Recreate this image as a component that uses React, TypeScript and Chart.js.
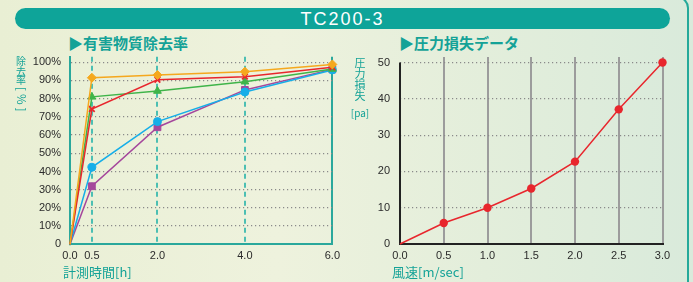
import React, { useEffect, useRef } from "react";
import { Chart, registerables } from "chart.js";

Chart.register(...registerables);

// ---------- data ----------
const TIME_H = [0, 0.5, 2, 4, 6];
const TIME_TICKS = [0, 0.5, 2, 4, 6];
const PCT_TICKS = [0, 10, 20, 30, 40, 50, 60, 70, 80, 90, 100];
const ORANGE_VALUES = [0, 91.5, 93, 94.8, 98.8];
const RED_VALUES = [0, 74.3, 90.4, 92.1, 97.2];
const GREEN_VALUES = [0, 81, 84.2, 89.3, 96.3];
const BLUE_VALUES = [0, 42.3, 67.4, 83.7, 95.8];
const PURPLE_VALUES = [0, 31.9, 64.3, 84.8, 96.1];

const VELOCITY = [0, 0.5, 1, 1.5, 2, 2.5, 3];
const VELOCITY_TICKS = [0, 0.5, 1, 1.5, 2, 2.5, 3];
const PRESSURE = [0, 5.8, 10, 15.3, 22.7, 37.1, 50];
const PA_TICKS = [0, 10, 20, 30, 40, 50];

// ---------- styles ----------
const TEAL = "#14a297";
const TEAL_AXIS = "#2aa89c";
const TEAL_DASH = "#4cbfb3";
const TICK_FONT = { family: "'Liberation Sans', Arial, sans-serif", size: 11 };
const TICK_COLOR = "#2b2b2b";
const CJK = "'Noto Sans CJK JP', 'Noto Sans', sans-serif";

const toPts = (xs: number[], ys: number[]) => xs.map((x, i) => ({ x, y: ys[i] }));
const hideFirst = (r: number) => (c: any) => (c.dataIndex === 0 ? 0 : r);

function mkSeries(label: string, ys: number[], color: string, style: string, r: number) {
  return {
    label,
    data: toPts(TIME_H, ys),
    borderColor: color,
    backgroundColor: color,
    borderWidth: 1.5,
    pointStyle: style,
    pointRadius: hideFirst(r),
    pointBorderWidth: style === "crossRot" ? 1.8 : 1,
    pointBorderColor: color,
    pointBackgroundColor: color,
    tension: 0,
    clip: false,
  };
}

function LeftChart() {
  const ref = useRef<HTMLCanvasElement>(null);
  useEffect(() => {
    const chart = new Chart(ref.current as HTMLCanvasElement, {
      type: "line",
      data: {
        datasets: [
          mkSeries("A", ORANGE_VALUES, "#f5a81e", "rectRot", 4.5),
          mkSeries("B", RED_VALUES, "#e8262d", "crossRot", 4),
          mkSeries("C", GREEN_VALUES, "#3fb449", "triangle", 4.5),
          mkSeries("D", BLUE_VALUES, "#16aee8", "circle", 4),
          mkSeries("E", PURPLE_VALUES, "#a5479c", "rect", 4.8),
        ] as any,
      },
      options: {
        animation: false,
        responsive: false,
        maintainAspectRatio: false,
        layout: { padding: { top: 16.8, right: 12, left: 0, bottom: 0 } },
        plugins: { legend: { display: false }, tooltip: { enabled: false } },
        scales: {
          x: {
            type: "linear",
            min: 0,
            max: 6,
            afterBuildTicks: (s: any) => {
              s.ticks = TIME_TICKS.map((v) => ({ value: v }));
            },
            afterFit: (s: any) => {
              s.height = 20.7;
            },
            ticks: {
              autoSkip: false,
              maxRotation: 0,
              padding: 5,
              font: TICK_FONT,
              color: TICK_COLOR,
              callback: (v: any) => Number(v).toFixed(1),
            },
            grid: {
              drawTicks: false,
              lineWidth: 2,
              color: (c: any) =>
                !c.tick || c.tick.value === 0
                  ? "rgba(0,0,0,0)"
                  : c.tick.value === 6
                  ? TEAL_AXIS
                  : TEAL_DASH,
            },
            border: {
              color: TEAL_AXIS,
              width: 2,
              dash: (c: any) => (c.tick && c.tick.value !== 6 ? [5, 4] : []),
            },
          },
          y: {
            type: "linear",
            min: 0,
            max: 103,
            afterBuildTicks: (s: any) => {
              s.ticks = PCT_TICKS.map((v) => ({ value: v }));
            },
            afterFit: (s: any) => {
              s.width = 70;
            },
            ticks: {
              padding: 9,
              font: TICK_FONT,
              color: TICK_COLOR,
              callback: (v: any) => (v === 0 ? "0" : v + "%"),
            },
            grid: {
              drawTicks: false,
              lineWidth: 1.2,
              color: (c: any) => (!c.tick || c.tick.value === 0 ? "rgba(0,0,0,0)" : "#8a8a8a"),
            },
            border: { color: TEAL_AXIS, width: 2, dash: [1.2, 2.8] },
          },
        },
      } as any,
    });
    return () => chart.destroy();
  }, []);
  return (
    <canvas
      ref={ref}
      width={345}
      height={225}
      style={{ position: "absolute", left: 0, top: 40, width: 345, height: 225, display: "block" }}
    />
  );
}

const axisLinePlugin = {
  id: "axisLine",
  beforeDatasetsDraw(chart: any) {
    const { ctx, scales } = chart;
    const x = scales.x;
    const y = scales.y;
    const px = x.getPixelForValue(0);
    ctx.save();
    ctx.strokeStyle = "#222";
    ctx.lineWidth = 2;
    ctx.beginPath();
    ctx.moveTo(px, y.getPixelForValue(0) + 1);
    ctx.lineTo(px, y.getPixelForValue(PA_TICKS[PA_TICKS.length - 1]));
    ctx.stroke();
    ctx.restore();
  },
};

function RightChart() {
  const ref = useRef<HTMLCanvasElement>(null);
  useEffect(() => {
    const chart = new Chart(ref.current as HTMLCanvasElement, {
      type: "line",
      data: {
        datasets: [
          {
            label: "圧力損失",
            data: toPts(VELOCITY, PRESSURE),
            borderColor: "#e8262d",
            backgroundColor: "#e8262d",
            borderWidth: 1.5,
            pointStyle: "circle",
            pointRadius: hideFirst(4.2),
            pointBorderWidth: 0,
            tension: 0,
            clip: false,
          },
        ] as any,
      },
      options: {
        animation: false,
        responsive: false,
        maintainAspectRatio: false,
        layout: { padding: { top: 17.1, right: 30.5, left: 0, bottom: 0 } },
        plugins: { legend: { display: false }, tooltip: { enabled: false } },
        scales: {
          x: {
            type: "linear",
            min: 0,
            max: 3,
            afterBuildTicks: (s: any) => {
              s.ticks = VELOCITY_TICKS.map((v) => ({ value: v }));
            },
            afterFit: (s: any) => {
              s.height = 21;
            },
            ticks: {
              autoSkip: false,
              maxRotation: 0,
              padding: 5,
              font: TICK_FONT,
              color: TICK_COLOR,
              callback: (v: any) => Number(v).toFixed(1),
            },
            grid: {
              drawTicks: false,
              lineWidth: 2,
              color: (c: any) => (!c.tick || c.tick.value === 0 ? "rgba(0,0,0,0)" : "#9c9c9c"),
            },
            border: { color: "#222", width: 2 },
          },
          y: {
            type: "linear",
            min: 0,
            max: 51.5,
            afterBuildTicks: (s: any) => {
              s.ticks = PA_TICKS.map((v) => ({ value: v }));
            },
            afterFit: (s: any) => {
              s.width = 55;
            },
            ticks: {
              padding: 10,
              font: TICK_FONT,
              color: TICK_COLOR,
              callback: (v: any) => String(v),
            },
            grid: {
              drawTicks: false,
              lineWidth: 1.2,
              color: (c: any) => (!c.tick || c.tick.value === 0 ? "rgba(0,0,0,0)" : "#8a8a8a"),
            },
            border: { display: false, dash: [1.2, 2.8] },
          },
        },
      } as any,
      plugins: [axisLinePlugin],
    });
    return () => chart.destroy();
  }, []);
  return (
    <canvas
      ref={ref}
      width={348}
      height={225}
      style={{ position: "absolute", left: 345, top: 40, width: 348, height: 225, display: "block" }}
    />
  );
}

const abs = (extra: React.CSSProperties): React.CSSProperties => ({
  position: "absolute",
  whiteSpace: "nowrap",
  margin: 0,
  ...extra,
});

export default function App() {
  useEffect(() => {
    document.body.style.margin = "0";
  }, []);
  const stack = (chars: string[], left: number, top: number, size: number, lh: number) => (
    <div style={abs({ left, top, width: size + 4, textAlign: "center", fontFamily: CJK, fontSize: size, lineHeight: lh + "px", color: TEAL })}>
      {chars.map((c, i) => (
        <div key={i} style={{ height: lh, lineHeight: lh + "px" }}>{c}</div>
      ))}
    </div>
  );
  return (
    <div
      style={{
        position: "fixed",
        left: 0,
        top: 0,
        width: 693,
        height: 282,
        overflow: "hidden",
        background: "linear-gradient(90deg, #e9efd4 0%, #eef2dd 40%, #e3eedb 70%, #d9eadb 100%)",
      }}
    >
      {/* panel border on the right */}
      <div
        style={abs({
          left: 400,
          top: -4,
          width: 289,
          height: 300,
          boxSizing: "border-box",
          borderTop: "2px solid #25a99a",
          borderRight: "2px solid #25a99a",
          borderTopRightRadius: 12,
        })}
      />
      {/* header bar */}
      <div
        style={abs({
          left: 15,
          top: 8,
          width: 655,
          height: 21,
          borderRadius: 11,
          background: "#0ea499",
          color: "#fff",
          textAlign: "center",
          fontFamily: "'Liberation Sans', Arial, sans-serif",
          fontSize: 18,
          lineHeight: "22px",
          letterSpacing: 2,
        })}
      >
        TC200-3
      </div>
      {/* section titles */}
      <div style={abs({ left: 68, top: 35, fontFamily: CJK, fontWeight: 700, fontSize: 15, lineHeight: "16px", color: TEAL })}>
        ▶有害物質除去率
      </div>
      <div style={abs({ left: 399, top: 35, fontFamily: CJK, fontWeight: 700, fontSize: 15, lineHeight: "16px", color: TEAL })}>
        ▶圧力損失データ
      </div>

      <LeftChart />
      <RightChart />

      {/* left y-axis title */}
      {stack(["除", "去", "率"], 14, 55.8, 10, 9.8)}
      <div
        style={abs({
          left: 15,
          top: 87,
          width: 14,
          fontFamily: CJK,
          fontSize: 11.5,
          lineHeight: "14px",
          color: TEAL,
          writingMode: "vertical-rl",
          letterSpacing: 3,
        })}
      >
        [%]
      </div>
      {/* right y-axis title */}
      {stack(["圧", "力", "損", "失"], 352.5, 57.3, 11, 10.8)}
      <div style={abs({ left: 347, top: 106.5, width: 26, textAlign: "center", fontFamily: CJK, fontSize: 10, lineHeight: "12px", color: TEAL })}>
        [pa]
      </div>
      {/* x-axis titles */}
      <div style={abs({ left: 63, top: 264, fontFamily: CJK, fontSize: 13, lineHeight: "16px", color: TEAL })}>
        計測時間[h]
      </div>
      <div style={abs({ left: 392, top: 264, fontFamily: CJK, fontSize: 13, lineHeight: "16px", color: TEAL })}>
        風速[m/sec]
      </div>
    </div>
  );
}
